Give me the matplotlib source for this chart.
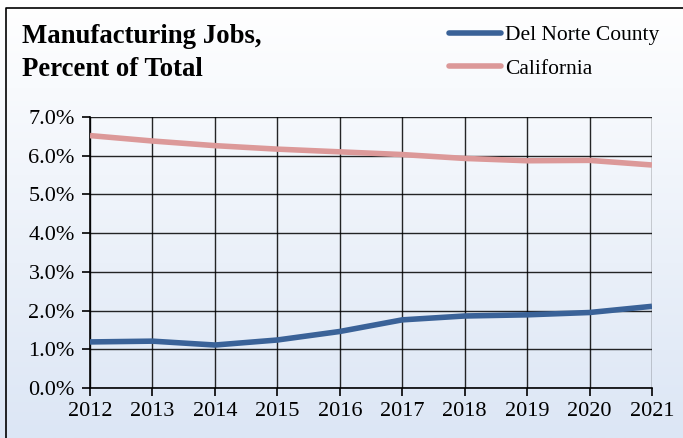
import numpy as np
import matplotlib
matplotlib.use('Agg')
import matplotlib.pyplot as plt
from matplotlib.ticker import PercentFormatter

years = [2012, 2013, 2014, 2015, 2016, 2017, 2018, 2019, 2020, 2021]
del_norte = [1.19, 1.21, 1.11, 1.24, 1.46, 1.76, 1.86, 1.89, 1.95, 2.11]
california = [6.52, 6.38, 6.26, 6.17, 6.10, 6.03, 5.93, 5.87, 5.88, 5.76]

plt.rcParams['font.family'] = ['Liberation Serif', 'DejaVu Serif']

fig = plt.figure(figsize=(6.83, 4.38), dpi=100)

# gradient background, white at top to pale blue at bottom
bg = fig.add_axes([0, 0, 1, 1], zorder=-10)
grad = np.linspace(0, 1, 256).reshape(-1, 1)
top = np.array([1.0, 1.0, 1.0])
bottom = np.array([220, 230, 245]) / 255
img = top + (bottom - top) * grad[..., None]
bg.imshow(img, aspect='auto', extent=[0, 1, 0, 1], origin='upper')
bg.set_xlim(0, 1)
bg.set_ylim(0, 1)
# frame: only left and top edges are visible
x0 = 5.5 / 683
y1 = 1 - 7.5 / 438
bg.plot([x0, x0, 1], [0, y1, y1], color='black', lw=1.2)
bg.axis('off')

ax = fig.add_axes([90 / 683, 1 - 388 / 438, (652 - 90) / 683, (388 - 117) / 438])
ax.patch.set_alpha(0)

ax.plot(years, del_norte, color='#3A6298', lw=4, solid_capstyle='butt',
        solid_joinstyle='round', label='Del Norte County', zorder=3)
ax.plot(years, california, color='#DC9999', lw=4, solid_capstyle='butt',
        solid_joinstyle='round', label='California', zorder=3)

ax.set_xlim(2012, 2021)
ax.set_ylim(0, 7)
ax.set_xticks(years)
ax.set_yticks(np.arange(0, 7.01, 1))
ax.yaxis.set_major_formatter(PercentFormatter(decimals=1))
ax.grid(True, color='black', lw=1, alpha=0.85)
for s in ['top', 'right']:
    ax.spines[s].set_visible(False)
ax.spines['left'].set_linewidth(1.2)
ax.spines['bottom'].set_linewidth(1.2)
ax.tick_params(axis='both', labelsize=16, length=6, width=1.2, direction='out')
ax.tick_params(axis='x', pad=4)
ax.tick_params(axis='y', pad=5)

fig.text(22 / 683, 1 - 53 / 438, 'Manufacturing Jobs,\nPercent of Total',
         fontsize=19.3, fontweight='bold', va='center', ha='left', linespacing=1.42)

leg = fig.legend(loc='upper left', bbox_to_anchor=(430 / 683, 1 - 6 / 438),
                 frameon=False, fontsize=15.5, handlelength=2.4, handletextpad=0.2,
                 labelspacing=0.62)
for line in leg.get_lines():
    line.set_linewidth(4)
    line.set_solid_capstyle('round')

fig.savefig('out.png', dpi=100)
